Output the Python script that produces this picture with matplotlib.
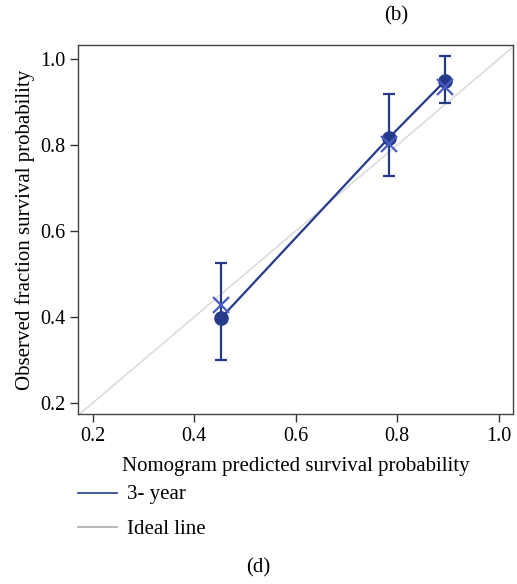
import matplotlib.pyplot as plt

plt.rcParams['font.family'] = ['Liberation Serif', 'DejaVu Serif']

# calibration points (3-year)
predicted = [0.453, 0.783, 0.894]
observed = [0.398, 0.816, 0.949]
ci_lower = [0.300, 0.729, 0.898]
ci_upper = [0.526, 0.918, 1.008]
corrected = [0.428, 0.803, 0.936]

ideal = [0.0, 1.2]

navy = '#263a8c'
light_navy = '#4a5bbf'


def main():
    fig = plt.figure(figsize=(5.17, 5.84), dpi=100)
    ax = fig.add_axes([0.151, 0.291, 0.841, 0.632])

    ax.plot(ideal, ideal, color='#dcdcdc', lw=1.2, zorder=1)

    err_lo = [o - l for o, l in zip(corrected, ci_lower)]
    err_hi = [u - o for o, u in zip(corrected, ci_upper)]
    ax.errorbar(predicted, corrected, yerr=[err_lo, err_hi], fmt='none',
                ecolor=navy, elinewidth=1.6, capsize=4, capthick=1.6, zorder=2)
    ax.plot(predicted, observed, color=navy, lw=1.6, marker='o', ms=9.5,
            mfc=navy, mec=navy, zorder=3)
    ax.plot(predicted, corrected, ls='none', marker='x', ms=11, mew=1.6,
            color=light_navy, zorder=4)

    ax.set_xlim(0.171, 1.028)
    ax.set_ylim(0.174, 1.033)
    ax.set_xticks([0.2, 0.4, 0.6, 0.8, 1.0])
    ax.set_yticks([0.2, 0.4, 0.6, 0.8, 1.0])
    ax.tick_params(labelsize=14.5, length=6, width=1, color='#333333', pad=3)
    for s in ax.spines.values():
        s.set_color('#444444')
        s.set_linewidth(1.0)

    ax.set_xlabel('Nomogram predicted survival probability', fontsize=15, labelpad=8)
    ax.set_ylabel('Observed fraction survival probability', fontsize=15, labelpad=4)

    # legend drawn below the axes
    fig.add_artist(plt.Line2D([78 / 517, 117 / 517], [1 - 493 / 584] * 2,
                              color=navy, lw=1.2, transform=fig.transFigure))
    fig.add_artist(plt.Line2D([78 / 517, 117 / 517], [1 - 527 / 584] * 2,
                              color='#aaaaaa', lw=1.2, transform=fig.transFigure))
    fig.text(127 / 517, 1 - 495 / 584, '3- year', fontsize=15, va='center')
    fig.text(127 / 517, 1 - 529 / 584, 'Ideal line', fontsize=15, va='center')

    fig.text(396 / 517, 1 - 16 / 584, '(b)', fontsize=15, ha='center', va='center')
    fig.text(258 / 517, 1 - 568 / 584, '(d)', fontsize=15, ha='center', va='center')

    fig.savefig('out.png', dpi=100)


if __name__ == "__main__":
    main()
